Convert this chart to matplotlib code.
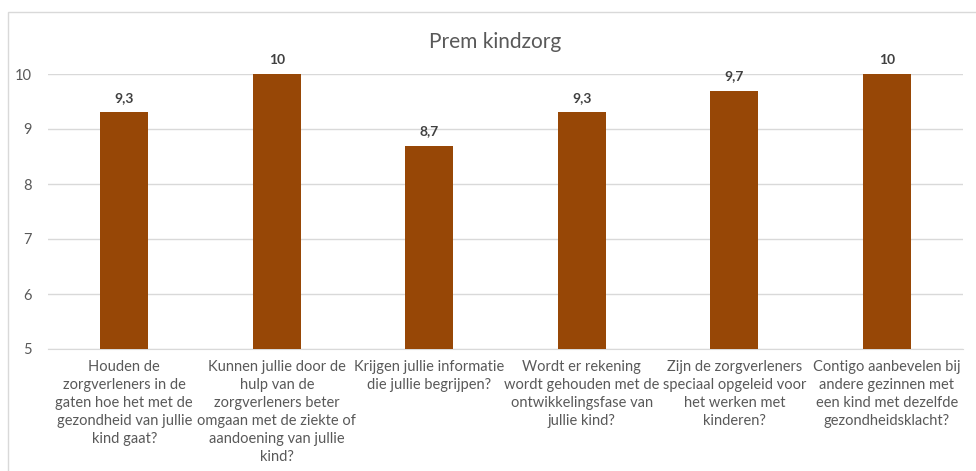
import matplotlib
matplotlib.use("Agg")
import matplotlib.pyplot as plt
from matplotlib.patches import Rectangle

categories = [
    "Houden de\nzorgverleners in de\ngaten hoe het met de\ngezondheid van jullie\nkind gaat?",
    "Kunnen jullie door de\nhulp van de\nzorgverleners beter\nomgaan met de ziekte of\naandoening van jullie\nkind?",
    "Krijgen jullie informatie\ndie jullie begrijpen?",
    "Wordt er rekening\nwordt gehouden met de\nontwikkelingsfase van\njullie kind?",
    "Zijn de zorgverleners\nspeciaal opgeleid voor\nhet werken met\nkinderen?",
    "Contigo aanbevelen bij\nandere gezinnen met\neen kind met dezelfde\ngezondheidsklacht?",
]
values = [9.3, 10, 8.7, 9.3, 9.7, 10]
value_labels = ["9,3", "10", "8,7", "9,3", "9,7", "10"]
yticks = [5, 6, 7, 8, 9, 10]
title = "Prem kindzorg"

plt.rcParams['font.family'] = ['Lato', 'DejaVu Sans']

fig = plt.figure(figsize=(9.76, 4.71), dpi=100)
fig.patches.append(Rectangle((8/976, -0.1), 1.2, 1 - 12/471 + 0.1, transform=fig.transFigure,
                             fill=False, edgecolor="#d9d9d9", linewidth=1))
ax = fig.add_axes([48/976, 1 - 349/471, 915/976, 275/471])

x = list(range(len(values)))
ax.bar(x, [v - 5 for v in values], bottom=5, width=0.315, color="#974706", zorder=3)
for xi, v, lab in zip(x, values, value_labels):
    ax.annotate(lab, (xi, v), xytext=(0, 6), textcoords="offset points",
                ha="center", va="bottom", fontsize=10, fontweight="bold", color="#404040")

ax.set_xlim(-0.5, len(values) - 0.5)
ax.set_ylim(5, 10)
ax.set_yticks(yticks)
ax.set_yticklabels([str(t) for t in yticks], fontsize=10.5, color="#595959")
ax.yaxis.grid(True, color="#d9d9d9", linewidth=1, zorder=0)
ax.set_xticks(x)
ax.set_xticklabels(categories, fontsize=10.5, color="#595959", linespacing=1.36, va="top")
ax.tick_params(axis="both", length=0)
ax.tick_params(axis="x", pad=8)
ax.tick_params(axis="y", pad=12)
for s in ["top", "right", "left"]:
    ax.spines[s].set_visible(False)
ax.spines["bottom"].set_color("#d9d9d9")

fig.text(495/976, 1 - 42/471, title, ha="center", va="center", fontsize=15, color="#595959")

fig.savefig("out.png", dpi=100)
